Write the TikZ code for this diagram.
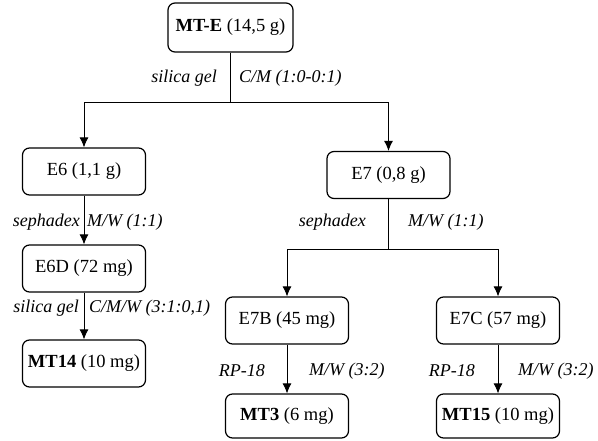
\documentclass[tikz,border=0pt]{standalone}
\usepackage{fontspec}
\setmainfont{Liberation Serif}
\usetikzlibrary{arrows.meta}
\begin{document}
\begin{tikzpicture}[x=1pt,y=-1pt,
  box/.style={draw, line width=1.2pt, rounded corners=7pt, inner sep=0pt,
    minimum width=123pt, minimum height=47pt, font=\fontsize{18.5}{20}\selectfont},
  lbl/.style={inner sep=0pt, font=\fontsize{18}{20}\selectfont\itshape},
  conn/.style={line width=0.9pt},
  arr/.style={conn, -{Latex[length=10pt,width=9pt]}}]
\useasboundingbox (0,0) rectangle (598,440);

% extracts and fractions
\node[box, minimum width=125pt, minimum height=49pt] (mte) at (230.5,27.5) {\textbf{MT-E} (14,5 g)};
\node[box] (e6)   at (84,171.5)  {E6 (1,1 g)};
\node[box] (e7)   at (388.5,175) {E7 (0,8 g)};
\node[box] (e6d)  at (84,268.5)  {E6D (72 mg)};
\node[box] (mt14) at (84,363.5)  {\textbf{MT14} (10 mg)};
\node[box] (e7b)  at (287,320.5) {E7B (45 mg)};
\node[box] (e7c)  at (498,320.5) {E7C (57 mg)};
\node[box, minimum height=44pt] (mt3)  at (287,416) {\textbf{MT3} (6 mg)};
\node[box, minimum height=44pt] (mt15) at (498,416) {\textbf{MT15} (10 mg)};

% branching points
\coordinate (s1) at (230.5,102);
\coordinate (s2) at (388.5,249);

% connectors
\draw[conn] (mte.south) -- (s1);
\draw[arr] (s1) -| (e6.north);
\draw[arr] (s1) -| (e7.north);
\draw[arr] (e6.south) -- (e6d.north);
\draw[arr] (e6d.south) -- (mt14.north);
\draw[conn] (e7.south) -- (s2);
\draw[arr] (s2) -| (e7b.north);
\draw[arr] (s2) -| (e7c.north);
\draw[arr] (e7b.south) -- (mt3.north);
\draw[arr] (e7c.south) -- (mt15.north);

% separation conditions
\node[lbl, anchor=east] (l1a) at (217,78) {silica gel};
\node[lbl, anchor=west] (l1b) at (239,78) {C/M (1:0-0:1)};
\node[lbl, anchor=east] (l2a) at (80,222) {sephadex};
\node[lbl, anchor=west] (l2b) at (87,222) {M/W (1:1)};
\node[lbl, anchor=east] (l3a) at (366,222) {sephadex};
\node[lbl, anchor=west] (l3b) at (408,222) {M/W (1:1)};
\node[lbl, anchor=east] (l4a) at (79,308) {silica gel};
\node[lbl, anchor=west] (l4b) at (89,308) {C/M/W (3:1:0,1)};
\node[lbl, anchor=east] (l5a) at (265,371) {RP-18};
\node[lbl, anchor=west] (l5b) at (309,371) {M/W (3:2)};
\node[lbl, anchor=east] (l6a) at (475,371) {RP-18};
\node[lbl, anchor=west] (l6b) at (518,371) {M/W (3:2)};
\end{tikzpicture}
\end{document}
